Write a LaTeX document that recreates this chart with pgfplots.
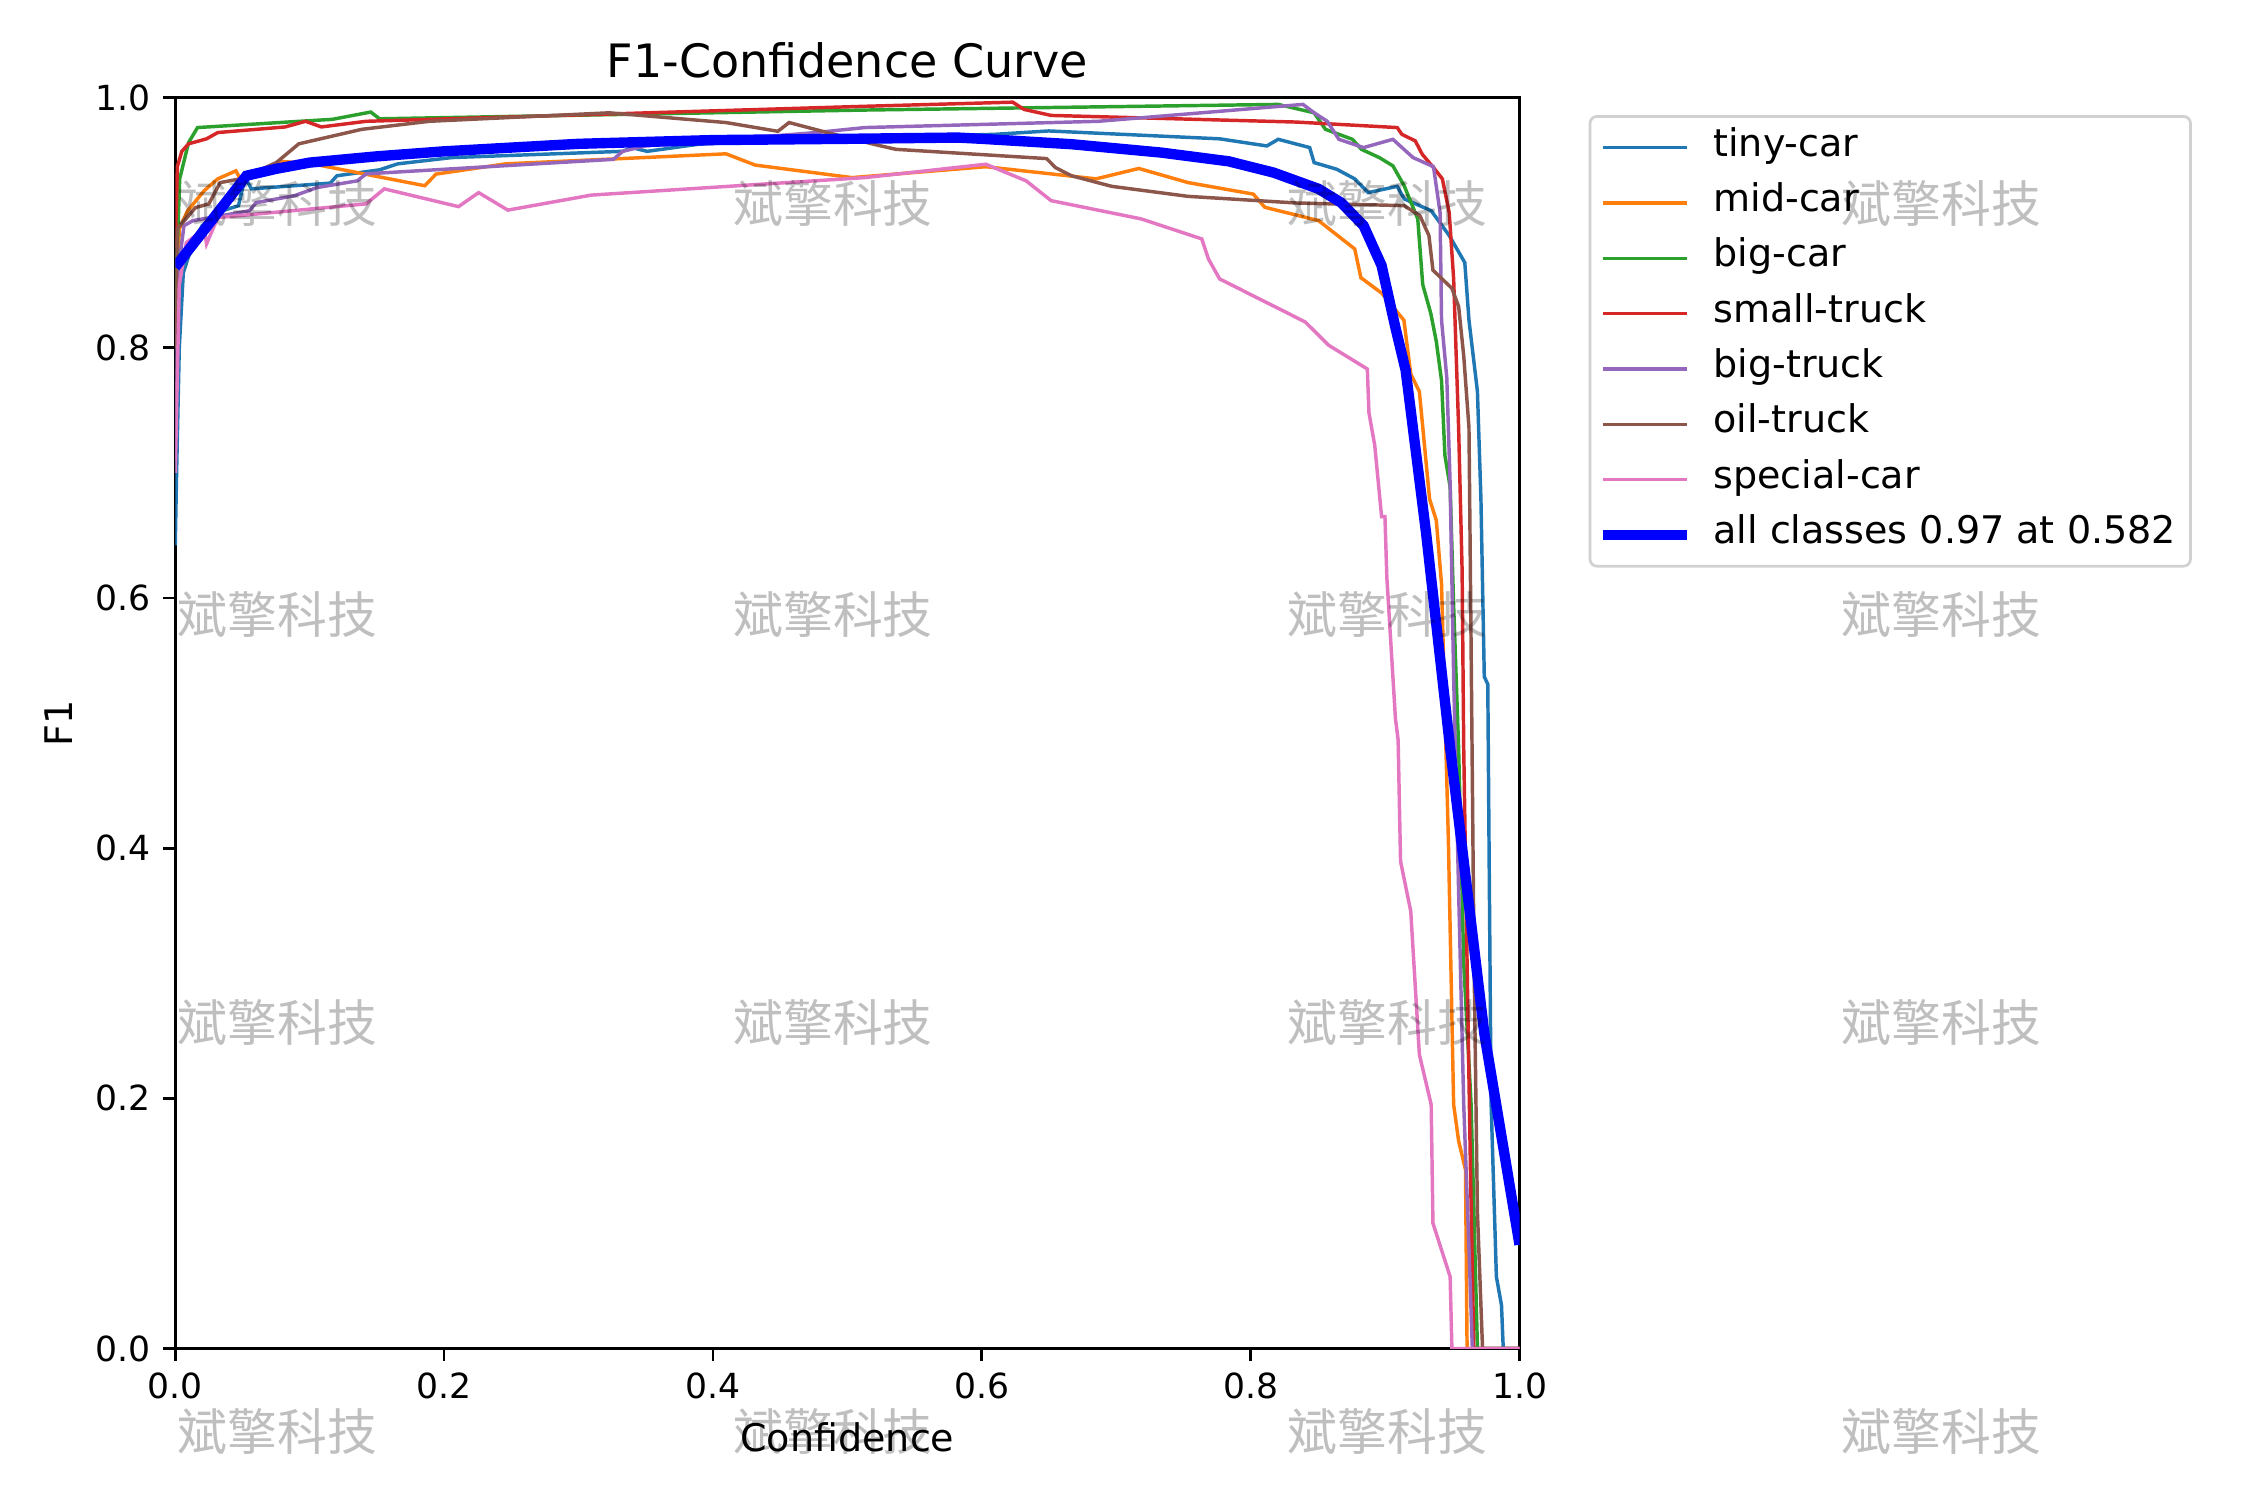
\documentclass[border=0pt]{standalone}
\usepackage{fontspec}
\setmainfont{DejaVu Sans}
\newfontfamily\cjk{Noto Sans CJK SC}
\usepackage{pgfplots}
\pgfplotsset{compat=1.18}
\definecolor{c0}{HTML}{1F77B4}
\definecolor{c1}{HTML}{FF7F0E}
\definecolor{c2}{HTML}{2CA02C}
\definecolor{c3}{HTML}{D62728}
\definecolor{c4}{HTML}{9467BD}
\definecolor{c5}{HTML}{8C564B}
\definecolor{c6}{HTML}{E377C2}
\begin{document}
\begin{tikzpicture}
\useasboundingbox (0,0) rectangle (9in,6in);
\begin{axis}[
  at={(0.701in,0.6058in)}, anchor=south west,
  width=5.377in, height=5.004in, scale only axis,
  xmin=0, xmax=1, ymin=0, ymax=1,
  xtick={0,0.2,0.4,0.6,0.8,1.0}, ytick={0,0.2,0.4,0.6,0.8,1.0},
  tick align=outside, tick pos=left,
  major tick length=3.5pt,
  every tick/.style={black, line width=0.8pt},
  axis line style={line width=0.8pt},
  ticklabel style={font=\fontsize{10}{12}\selectfont},
  xticklabel style={/pgf/number format/.cd, fixed, fixed zerofill, precision=1, assume math mode=true},
  yticklabel style={/pgf/number format/.cd, fixed, fixed zerofill, precision=1, assume math mode=true},
  title={F1-Confidence Curve},
  title style={font=\fontsize{13.3}{15}\selectfont, yshift=-3.9pt},
  xlabel={Confidence}, ylabel={F1},
  label style={font=\fontsize{11}{13}\selectfont},
  legend cell align=left,
  legend image code/.code={\draw[#1] (0pt,0pt) -- (24.3pt,0pt); \path[draw=none] (0pt,0pt) -- (30pt,0pt);},
  legend style={at={(1.0514,0.986)}, anchor=north west, draw=black!18, line width=0.8pt, rounded corners=2pt,
    font=\fontsize{11}{13}\selectfont, inner xsep=2.2pt, inner ysep=1.5pt, row sep=1pt,
    nodes={inner sep=2pt, text height=8pt, text depth=3pt}},
]
\addplot[c0, line width=1pt] coordinates {(0,0.642)(0.001,0.70)(0.003,0.80)(0.006,0.86)(0.012,0.88)(0.020,0.8976)(0.035,0.9095)(0.047,0.9135)(0.052,0.936)(0.0567,0.927)(0.1153,0.9316)(0.1203,0.9375)(0.152,0.9422)(0.1655,0.947)(0.2057,0.952)(0.3328,0.957)(0.3395,0.960)(0.351,0.957)(0.3896,0.9627)(0.45,0.966)(0.52,0.968)(0.6096,0.9706)(0.6498,0.9733)(0.7769,0.967)(0.812,0.9613)(0.8205,0.9666)(0.8439,0.96)(0.8472,0.948)(0.864,0.9427)(0.8774,0.935)(0.8874,0.924)(0.909,0.929)(0.9142,0.919)(0.9343,0.9095)(0.9477,0.8897)(0.9593,0.868)(0.9624,0.822)(0.9687,0.765)(0.9713,0.679)(0.9738,0.537)(0.9764,0.531)(0.9776,0.3655)(0.9789,0.195)(0.9828,0.0574)(0.9866,0.0346)(0.9879,0)(1,0)};
\addlegendentry{tiny-car}
\addplot[c1, line width=1pt] coordinates {(0,0.80)(0.003,0.895)(0.0092,0.9095)(0.0215,0.9255)(0.0316,0.935)(0.0451,0.9414)(0.0484,0.935)(0.0785,0.949)(0.102,0.947)(0.1856,0.9295)(0.194,0.9388)(0.2458,0.947)(0.4097,0.955)(0.4315,0.946)(0.5034,0.936)(0.603,0.9447)(0.685,0.935)(0.7168,0.9433)(0.7535,0.932)(0.802,0.9228)(0.8105,0.9123)(0.8505,0.9016)(0.8774,0.879)(0.882,0.856)(0.8974,0.8437)(0.914,0.822)(0.9191,0.779)(0.9255,0.765)(0.9331,0.679)(0.9381,0.662)(0.942,0.611)(0.9471,0.4055)(0.951,0.195)(0.9547,0.166)(0.9598,0.143)(0.961,0)(1,0)};
\addlegendentry{mid-car}
\addplot[c2, line width=1pt] coordinates {(0,0.83)(0.0033,0.935)(0.0099,0.964)(0.0166,0.976)(0.117,0.9826)(0.1454,0.9884)(0.152,0.983)(0.513,0.990)(0.8205,0.9945)(0.8472,0.9878)(0.8556,0.9746)(0.8757,0.9666)(0.8824,0.9586)(0.8957,0.952)(0.9058,0.9454)(0.9142,0.9295)(0.9243,0.903)(0.928,0.8505)(0.934,0.8274)(0.9381,0.805)(0.942,0.7737)(0.9445,0.714)(0.9484,0.6886)(0.951,0.594)(0.9547,0.48)(0.9585,0.3077)(0.964,0.195)(0.9687,0)(1,0)};
\addlegendentry{big-car}
\addplot[c3, line width=1pt] coordinates {(0,0.88)(0.0016,0.945)(0.0049,0.957)(0.0099,0.963)(0.0233,0.967)(0.0316,0.972)(0.0818,0.9765)(0.0969,0.981)(0.1087,0.9765)(0.142,0.981)(0.513,0.993)(0.623,0.9963)(0.6314,0.9905)(0.6515,0.9857)(0.8339,0.9804)(0.909,0.976)(0.9125,0.9706)(0.9225,0.9653)(0.9276,0.9547)(0.936,0.944)(0.9426,0.935)(0.9477,0.908)(0.951,0.855)(0.9547,0.7361)(0.9573,0.622)(0.9585,0.48)(0.961,0.3077)(0.9636,0.137)(0.966,0)(1,0)};
\addlegendentry{small-truck}
\addplot[c4, line width=1pt] coordinates {(0,0.71)(0.002,0.86)(0.0065,0.8976)(0.0132,0.9016)(0.0551,0.9095)(0.0602,0.916)(0.0886,0.9215)(0.1053,0.928)(0.1354,0.9334)(0.142,0.939)(0.326,0.9506)(0.3328,0.957)(0.3495,0.9613)(0.4767,0.972)(0.513,0.976)(0.6867,0.981)(0.8389,0.9945)(0.8472,0.9878)(0.857,0.981)(0.8656,0.9666)(0.884,0.96)(0.9058,0.9666)(0.9208,0.952)(0.936,0.9447)(0.9409,0.908)(0.942,0.822)(0.9459,0.776)(0.9484,0.691)(0.951,0.537)(0.9547,0.3655)(0.9585,0.195)(0.9624,0.0803)(0.9649,0)(1,0)};
\addlegendentry{big-truck}
\addplot[c5, line width=1pt] coordinates {(0,0.80)(0.0016,0.895)(0.015,0.912)(0.025,0.915)(0.0334,0.932)(0.0484,0.935)(0.0752,0.948)(0.0919,0.963)(0.1388,0.9746)(0.189,0.981)(0.3228,0.9878)(0.4097,0.980)(0.4483,0.973)(0.4566,0.980)(0.490,0.9706)(0.5194,0.9627)(0.5361,0.9586)(0.6482,0.9512)(0.6548,0.944)(0.6666,0.9375)(0.6967,0.929)(0.7535,0.921)(0.8339,0.9157)(0.9142,0.9136)(0.9259,0.9056)(0.9326,0.8897)(0.9356,0.862)(0.9497,0.8475)(0.9547,0.833)(0.9585,0.7935)(0.9624,0.736)(0.9637,0.5937)(0.9662,0.3077)(0.9687,0.109)(0.9725,0)(1,0)};
\addlegendentry{oil-truck}
\addplot[c6, line width=1pt] coordinates {(0,0.70)(0.003,0.85)(0.0082,0.884)(0.0216,0.895)(0.0233,0.883)(0.0316,0.904)(0.142,0.915)(0.1555,0.927)(0.2107,0.9128)(0.2257,0.924)(0.2474,0.910)(0.3094,0.922)(0.513,0.936)(0.603,0.9467)(0.633,0.9334)(0.6515,0.9176)(0.7185,0.903)(0.7636,0.887)(0.7686,0.871)(0.7769,0.855)(0.8406,0.8206)(0.858,0.802)(0.8868,0.783)(0.888,0.748)(0.8923,0.722)(0.8974,0.665)(0.8999,0.665)(0.9013,0.6166)(0.9077,0.5036)(0.9097,0.4865)(0.9115,0.3895)(0.9191,0.3495)(0.9255,0.235)(0.9343,0.195)(0.9356,0.1002)(0.9484,0.0574)(0.9497,0)(1,0)};
\addlegendentry{special-car}
\addplot[blue, line width=3pt] coordinates {(0,0.8645)(0.053,0.9375)(0.075,0.943)(0.1,0.948)(0.15,0.953)(0.2,0.957)(0.3,0.963)(0.4,0.966)(0.5,0.967)(0.582,0.968)(0.6,0.967)(0.6666,0.9627)(0.7334,0.956)(0.7837,0.949)(0.817,0.940)(0.8505,0.927)(0.8673,0.916)(0.884,0.8976)(0.8974,0.8657)(0.9075,0.817)(0.9153,0.782)(0.9306,0.651)(0.9484,0.48)(0.9738,0.252)(1.0,0.083)};
\addlegendentry{all classes 0.97 at 0.582}
\end{axis}
\foreach \x in {1.109,3.332,5.549,7.766}{
  \foreach \y in {5.184,3.541,1.910,0.273}{
    \node[text=black, text opacity=0.25, font=\cjk\fontsize{14.4}{14.4}\selectfont, inner sep=0pt] at (\x in,\y in) {斌擎科技};
  }
}
\end{tikzpicture}
\end{document}
